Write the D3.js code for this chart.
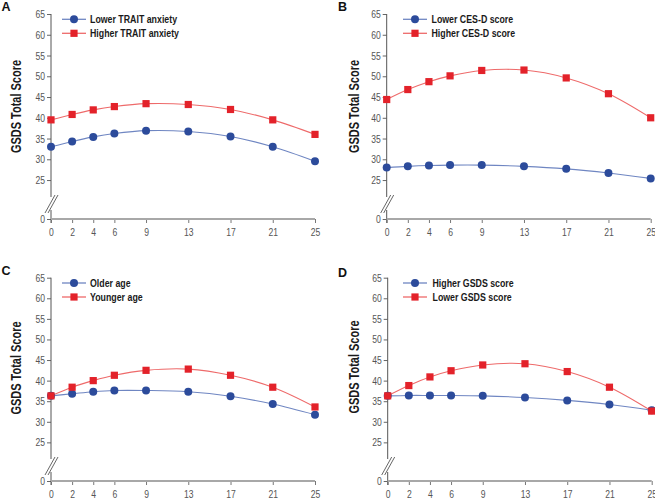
<!DOCTYPE html>
<html><head><meta charset="utf-8">
<script src="https://cdn.jsdelivr.net/npm/d3@7"></script>
<style>body{margin:0;background:#fff} svg{display:block}</style>
</head><body><svg width="655" height="498"></svg>
<script>
const weeks = [0, 2, 4, 6, 9, 13, 17, 21, 25];
const yTickValues = [0, 25, 30, 35, 40, 45, 50, 55, 60, 65];
const panelLabels = ["A", "B", "C", "D"];
const blueNames = ["Lower TRAIT anxiety", "Lower CES-D score", "Older age", "Higher GSDS score"];
const redNames = ["Higher TRAIT anxiety", "Higher CES-D score", "Younger age", "Lower GSDS score"];
const yTitle = "GSDS Total Score";

const blueA = [33.0, 34.3, 35.4, 36.2, 36.9, 36.7, 35.5, 33.0, 29.5];
const redA  = [39.5, 40.8, 41.9, 42.7, 43.4, 43.2, 42.0, 39.5, 36.0];
const blueB = [28.0, 28.3, 28.5, 28.6, 28.6, 28.3, 27.7, 26.7, 25.4];
const redB  = [44.4, 46.8, 48.7, 50.1, 51.4, 51.5, 49.6, 45.8, 40.0];
const blueC = [36.3, 36.8, 37.3, 37.6, 37.6, 37.3, 36.2, 34.3, 31.7];
const redC  = [36.3, 38.4, 40.0, 41.3, 42.5, 42.8, 41.3, 38.4, 33.6];
const blueD = [36.3, 36.4, 36.4, 36.4, 36.3, 35.9, 35.2, 34.2, 32.8];
const redD  = [36.3, 38.8, 40.9, 42.4, 43.8, 44.1, 42.2, 38.4, 32.6];

const blueSeries = [blueA, blueB, blueC, blueD];
const redSeries = [redA, redB, redC, redD];

const layout = [
  {ox: 51,    top: 14,    bottom: 219, legX: 62,  txtX: 90,    lx: 1.5, ly: 11,  tx: 20.5,  ty: 106.5},
  {ox: 386.7, top: 14,    bottom: 219, legX: 403, txtX: 431.5, lx: 338, ly: 11,  tx: 358.5, ty: 106.5},
  {ox: 51,    top: 277.7, bottom: 481, legX: 62,  txtX: 90,    lx: 1.5, ly: 275, tx: 20.5,  ty: 368},
  {ox: 387.7, top: 277.7, bottom: 481, legX: 403, txtX: 432.5, lx: 338, ly: 276.5, tx: 358.5, ty: 367}
];

const W = 264;
const FONT = "'Liberation Sans',Arial,sans-serif";
const BLUE = "#2c4b9b", BLUE_LINE = "#6f86c2";
const RED = "#e3222a", RED_LINE = "#ee6a6a";

function condense(sel, f) {
  sel.each(function () {
    const l = this.getComputedTextLength();
    this.setAttribute("textLength", (l * f).toFixed(2));
    this.setAttribute("lengthAdjust", "spacingAndGlyphs");
  });
}

const svg = d3.select("svg");

layout.forEach((L, i) => {
  const h = L.bottom - L.top;
  const x = d3.scaleLinear().domain([0, 25]).range([L.ox, L.ox + W]);
  const y = d3.scaleLinear().domain([0, 25, 65]).range([L.bottom, L.bottom - 0.19 * h, L.top]);
  const g = svg.append("g");

  // panel label
  g.append("text").attr("x", L.lx).attr("y", L.ly)
    .attr("font-family", FONT).attr("font-weight", "bold")
    .attr("font-size", 12.5).attr("fill", "#111").text(panelLabels[i]);

  // y title
  g.append("text").attr("transform", `translate(${L.tx},${L.ty}) rotate(-90)`)
    .attr("text-anchor", "middle").attr("font-family", FONT).attr("font-weight", "bold")
    .attr("font-size", 14.5).attr("fill", "#1a1a1a")
    .attr("textLength", 93).attr("lengthAdjust", "spacingAndGlyphs").text(yTitle);

  // y axis
  const yAxis = d3.axisLeft(y).tickValues(yTickValues).tickSize(4).tickSizeOuter(0).tickPadding(2);
  const ya = g.append("g").attr("transform", `translate(${L.ox},0)`).call(yAxis);
  ya.select(".domain").remove();
  ya.selectAll(".tick line").attr("stroke", "#666");
  ya.selectAll(".tick text").attr("font-family", FONT).attr("font-size", 11).attr("fill", "#555");
  condense(ya.selectAll(".tick text"), 0.78);

  // y axis line with break
  const axisC = "#555";
  g.append("line").attr("x1", L.ox).attr("x2", L.ox).attr("y1", L.top).attr("y2", L.bottom - 22)
    .attr("stroke", axisC).attr("stroke-width", 1);
  g.append("line").attr("x1", L.ox).attr("x2", L.ox).attr("y1", L.bottom - 9).attr("y2", L.bottom + 4)
    .attr("stroke", axisC).attr("stroke-width", 1);
  [0, 3].forEach(dx => {
    g.append("line")
      .attr("x1", L.ox - 6 + dx).attr("y1", L.bottom - 6)
      .attr("x2", L.ox + 4 + dx).attr("y2", L.bottom - 24)
      .attr("stroke", "#555").attr("stroke-width", 0.9);
  });

  // x axis
  const xAxis = d3.axisBottom(x).tickValues(weeks).tickSize(4).tickSizeOuter(0).tickPadding(5);
  const xa = g.append("g").attr("transform", `translate(0,${L.bottom})`).call(xAxis);
  xa.select(".domain").remove();
  xa.selectAll(".tick line").attr("stroke", "#777");
  xa.selectAll(".tick text").attr("font-family", FONT).attr("font-size", 11).attr("fill", "#555");
  condense(xa.selectAll(".tick text"), 0.78);
  g.append("line").attr("x1", L.ox).attr("x2", L.ox + W).attr("y1", L.bottom).attr("y2", L.bottom)
    .attr("stroke", "#a8a8a8").attr("stroke-width", 2);

  // lines
  const line = d3.line().x((d, j) => x(weeks[j])).y(d => y(d)).curve(d3.curveCatmullRom.alpha(0.5));
  g.append("path").datum(blueSeries[i]).attr("d", line).attr("fill", "none")
    .attr("stroke", BLUE_LINE).attr("stroke-width", 1.1);
  g.append("path").datum(redSeries[i]).attr("d", line).attr("fill", "none")
    .attr("stroke", RED_LINE).attr("stroke-width", 1.1);

  // markers
  g.selectAll(".bm").data(blueSeries[i]).enter().append("circle")
    .attr("cx", (d, j) => x(weeks[j])).attr("cy", d => y(d)).attr("r", 4)
    .attr("fill", BLUE);
  g.selectAll(".rm").data(redSeries[i]).enter().append("rect")
    .attr("x", (d, j) => x(weeks[j]) - 3.6).attr("y", d => y(d) - 3.6)
    .attr("width", 7.2).attr("height", 7.2).attr("fill", RED);

  // legend
  const rows = [
    {name: blueNames[i], c: BLUE, lc: BLUE_LINE, shape: "circle"},
    {name: redNames[i], c: RED, lc: RED_LINE, shape: "square"}
  ];
  rows.forEach((r, k) => {
    const ry = L.top + 5.3 + k * 14;
    g.append("line").attr("x1", L.legX).attr("x2", L.legX + 24).attr("y1", ry).attr("y2", ry)
      .attr("stroke", r.lc).attr("stroke-width", 1.3);
    if (r.shape === "circle") {
      g.append("circle").attr("cx", L.legX + 12).attr("cy", ry).attr("r", 4).attr("fill", r.c);
    } else {
      g.append("rect").attr("x", L.legX + 12 - 3.6).attr("y", ry - 3.6).attr("width", 7.2).attr("height", 7.2).attr("fill", r.c);
    }
    const t = g.append("text").attr("x", L.txtX).attr("y", ry).attr("dy", "0.36em")
      .attr("font-family", FONT).attr("font-weight", "bold").attr("font-size", 11)
      .attr("fill", "#1a1a1a").text(r.name);
    condense(t, 0.8);
  });
});
</script>
</body></html>
